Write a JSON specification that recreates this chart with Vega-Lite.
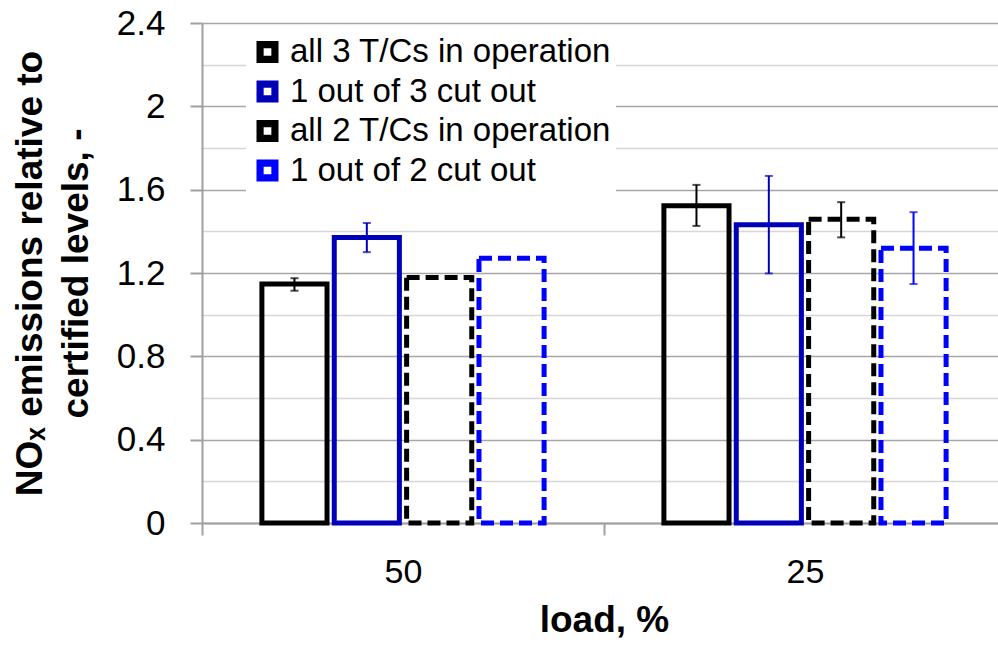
{
  "$schema": "https://vega.github.io/schema/vega-lite/v6.json",
  "width": 796,
  "height": 500,
  "autosize": {"type": "none"},
  "padding": {"left": 202, "top": 23, "right": 0, "bottom": 122},
  "background": "white",
  "config": {
    "font": "Liberation Sans",
    "view": {"stroke": null},
    "legend": {
      "symbolType": "M-1,-1H1V1H-1Z M-0.35,-0.35V0.35H0.35V-0.35Z",
      "symbolSize": 484,
      "symbolStrokeWidth": 0,
      "labelFontSize": 33,
      "labelColor": "black",
      "labelFont": "Liberation Sans",
      "labelLimit": 600,
      "labelOffset": 6,
      "rowPadding": 6.5,
      "clipHeight": 32,
      "padding": 5,
      "fillColor": "white"
    }
  },
  "data": {
    "values": [
      {"load": "50", "series": "all 3 T/Cs in operation", "value": 1.147, "lo": 1.115, "hi": 1.175},
      {"load": "50", "series": "1 out of 3 cut out", "value": 1.37, "lo": 1.3, "hi": 1.44},
      {"load": "50", "series": "all 2 T/Cs in operation", "value": 1.179, "lo": null, "hi": null},
      {"load": "50", "series": "1 out of 2 cut out", "value": 1.271, "lo": null, "hi": null},
      {"load": "25", "series": "all 3 T/Cs in operation", "value": 1.523, "lo": 1.426, "hi": 1.623},
      {"load": "25", "series": "1 out of 3 cut out", "value": 1.432, "lo": 1.198, "hi": 1.666},
      {"load": "25", "series": "all 2 T/Cs in operation", "value": 1.458, "lo": 1.371, "hi": 1.54},
      {"load": "25", "series": "1 out of 2 cut out", "value": 1.319, "lo": 1.147, "hi": 1.492}
    ]
  },
  "encoding": {
    "x": {
      "field": "load",
      "type": "nominal",
      "sort": ["50", "25"],
      "scale": {"range": [0, 804], "paddingInner": 0.28, "paddingOuter": 0.14},
      "axis": {
        "labelFontSize": 34,
        "labelColor": "black",
        "labelAngle": 0,
        "labelPadding": 20,
        "tickSize": 12,
        "tickOffset": -201,
        "labelOffset": 201,
        "tickColor": "#a0a0a0",
        "tickWidth": 2,
        "domainColor": "#a0a0a0",
        "domainWidth": 2,
        "grid": false,
        "title": "load, %",
        "titleFontSize": 37,
        "titleFontWeight": "bold",
        "titleColor": "black",
        "titlePadding": 13
      }
    },
    "xOffset": {
      "field": "series",
      "type": "nominal",
      "sort": ["all 3 T/Cs in operation", "1 out of 3 cut out", "all 2 T/Cs in operation", "1 out of 2 cut out"],
      "scale": {"paddingInner": 0.1, "paddingOuter": 0.05}
    }
  },
  "layer": [
    {
      "mark": {"type": "bar", "filled": false, "strokeWidth": 5},
      "encoding": {
        "y": {
          "field": "value",
          "type": "quantitative",
          "scale": {"domain": [0, 2.4], "nice": false, "zero": true},
          "axis": {
            "values": [0, 0.2, 0.4, 0.6, 0.8, 1.0, 1.2, 1.4, 1.6, 1.8, 2.0, 2.2, 2.4],
            "labelExpr": "round(datum.value*10) % 4 == 0 ? '' + round(datum.value*10)/10 : ''",
            "labelFontSize": 35,
            "labelColor": "black",
            "labelPadding": 25,
            "tickSize": 12,
            "tickColor": "#a0a0a0",
            "tickWidth": 2,
            "tickOpacity": {"condition": {"test": "round(datum.value*10) % 4 == 0", "value": 1}, "value": 0},
            "domainColor": "#a0a0a0",
            "domainWidth": 2,
            "grid": true,
            "gridColor": {"condition": {"test": "round(datum.value*10) % 4 == 0", "value": "#a6a6a6"}, "value": "#d6d6d6"},
            "gridWidth": 1.5,
            "title": ["NOₓ emissions relative to", "certified levels, -"],
            "titleFontSize": 37,
            "titleFontWeight": "bold",
            "titleColor": "black",
            "titleLineHeight": 46,
            "titlePadding": 21
          }
        },
        "stroke": {
          "field": "series",
          "type": "nominal",
          "scale": {
            "domain": ["all 3 T/Cs in operation", "1 out of 3 cut out", "all 2 T/Cs in operation", "1 out of 2 cut out"],
            "range": ["#000000", "#0000B8", "#000000", "#0000FF"]
          },
          "legend": {
            "orient": "none", "legendX": 44, "legendY": 8, "title": null,
            "symbolType": "M-1,-1H1V1H-1Z M-0.35,-0.35V0.35H0.35V-0.35Z",
            "symbolSize": 484,
            "symbolStrokeWidth": 0,
            "encode": {"symbols": {
              "strokeWidth": {"value": 0},
              "size": {"value": 484},
              "shape": {"condition": {"test": "indexof(datum.value, '2') >= 0", "value": "M-1,-1H0.2V-0.35H-1Z M-1,-1H-0.35V0.2H-1Z M-0.2,0.35H1V1H-0.2Z M0.35,-0.2H1V1H0.35Z"}, "value": "M-1,-1H1V1H-1Z M-0.35,-0.35V0.35H0.35V-0.35Z"}
            }}
          }
        },
        "strokeDash": {
          "field": "series",
          "type": "nominal",
          "scale": {
            "domain": ["all 3 T/Cs in operation", "1 out of 3 cut out", "all 2 T/Cs in operation", "1 out of 2 cut out"],
            "range": [[1, 0], [1, 0], [13, 6], [13, 6]]
          },
          "legend": null
        }
      }
    },
    {
      "mark": {"type": "rule", "strokeWidth": 2},
      "encoding": {
        "y": {"field": "lo", "type": "quantitative"},
        "y2": {"field": "hi"},
        "color": {
          "field": "series",
          "type": "nominal",
          "scale": {
            "domain": ["all 3 T/Cs in operation", "1 out of 3 cut out", "all 2 T/Cs in operation", "1 out of 2 cut out"],
            "range": ["#000000", "#0000B8", "#000000", "#0000FF"]
          },
          "legend": null
        }
      }
    },
    {
      "mark": {"type": "tick", "size": 8, "thickness": 2},
      "encoding": {
        "y": {"field": "lo", "type": "quantitative"},
        "color": {"field": "series", "type": "nominal", "legend": null}
      }
    },
    {
      "mark": {"type": "tick", "size": 8, "thickness": 2},
      "encoding": {
        "y": {"field": "hi", "type": "quantitative"},
        "color": {"field": "series", "type": "nominal", "legend": null}
      }
    }
  ]
}
